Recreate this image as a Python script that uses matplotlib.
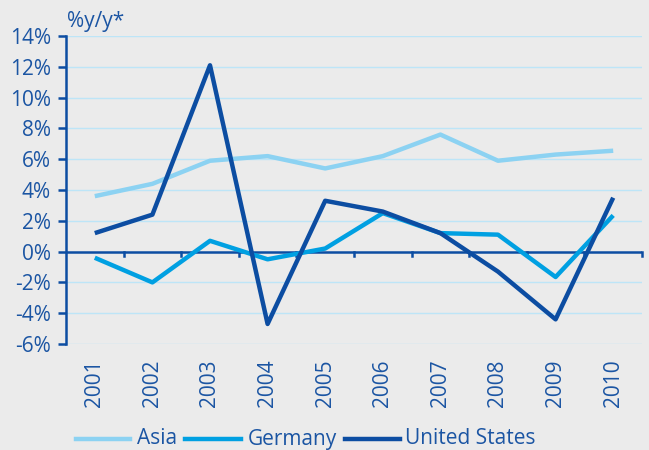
import matplotlib
matplotlib.use("Agg")
import matplotlib.pyplot as plt
from matplotlib.lines import Line2D

years = ["2001", "2002", "2003", "2004", "2005", "2006", "2007", "2008", "2009", "2010"]
asia = [3.6, 4.4, 5.9, 6.2, 5.4, 6.2, 7.6, 5.9, 6.3, 6.55]
germany = [-0.4, -2.0, 0.7, -0.5, 0.2, 2.5, 1.2, 1.1, -1.65, 2.35]
united_states = [1.2, 2.4, 12.1, -4.7, 3.3, 2.6, 1.2, -1.3, -4.4, 3.5]
yticks = [-6, -4, -2, 0, 2, 4, 6, 8, 10, 12, 14]
series_names = ["Asia", "Germany", "United States"]

BG = "#EBEBEB"
TXT = "#1B55A3"
C_ASIA = "#8CD2F2"
C_GER = "#00A0E2"
C_US = "#0C4DA2"
GRID = "#BDE5F7"
FS = 15

plt.rcParams['font.family'] = ['Open Sans', 'DejaVu Sans']

fig = plt.figure(figsize=(6.49, 4.5), dpi=100, facecolor=BG)
ax = fig.add_axes([66/649, 1-344/450, 576/649, 308/450], facecolor=BG)

x = list(range(len(years)))
for yv in yticks:
    if yv != 0:
        ax.axhline(yv, color=GRID, lw=1, zorder=1)

ax.plot(x, asia, color=C_ASIA, lw=3.2, solid_capstyle='butt', zorder=3)
ax.plot(x, germany, color=C_GER, lw=3.2, solid_capstyle='butt', zorder=3)
ax.plot(x, united_states, color=C_US, lw=3.2, solid_capstyle='butt', zorder=4)

ax.axhline(0, color=C_US, lw=1.8, zorder=2)
for b in [i + 0.5 for i in range(len(years))]:
    ax.plot([b, b], [0, -0.28], color=C_US, lw=1.8, zorder=2, clip_on=False)

ax.set_xlim(-0.5, 9.5)
ax.set_ylim(-6, 14)
ax.set_yticks(yticks)
ax.set_yticklabels([f"{v}%" for v in yticks], fontsize=FS, color=TXT)
ax.set_xticks(x)
ax.set_xticklabels(years, rotation=90, fontsize=FS, color=TXT)
ax.tick_params(axis='x', length=0, pad=11)
ax.tick_params(axis='y', length=6, width=1.8, color=C_US, pad=5)
for s in ['top', 'right', 'bottom']:
    ax.spines[s].set_visible(False)
ax.spines['left'].set_color(C_US)
ax.spines['left'].set_linewidth(1.8)

fig.text(67/649, 1-21/450, "%y/y*", fontsize=FS, color=TXT, va='center', ha='left')

# legend drawn manually
leg_y = 1 - 439/450
leg_items = [(76, 130, 137, C_ASIA), (185, 241, 248, C_GER), (345, 400, 405, C_US)]
for (x0, x1, tx, c), name in zip(leg_items, series_names):
    fig.add_artist(Line2D([x0/649, x1/649], [leg_y, leg_y], color=c, lw=3.2,
                          transform=fig.transFigure))
    fig.text(tx/649, leg_y, name, fontsize=FS, color=TXT, va='center', ha='left')

fig.savefig("out.png", dpi=100, facecolor=BG)
